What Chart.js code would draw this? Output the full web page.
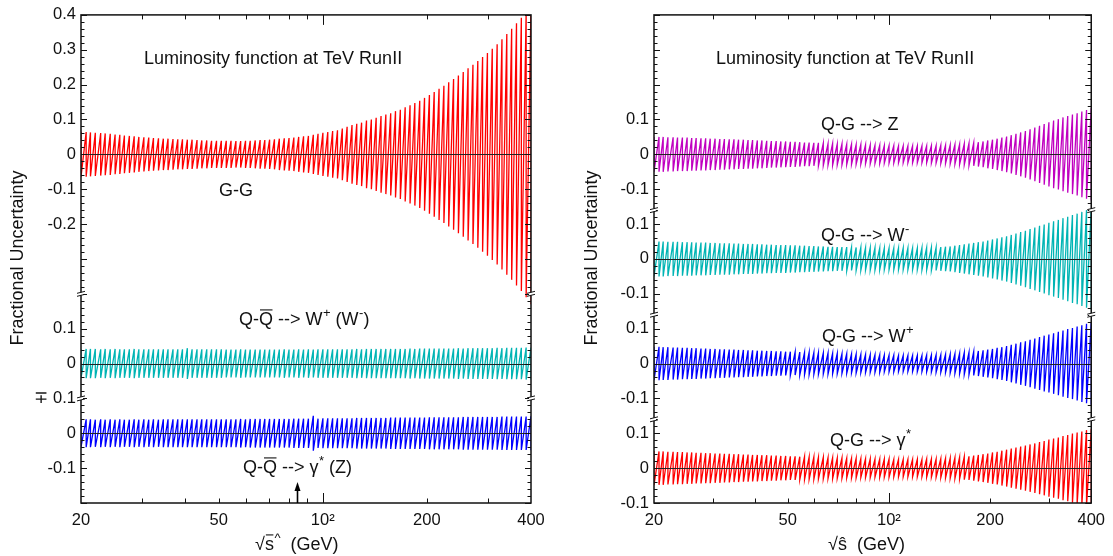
<!DOCTYPE html>
<html>
<head>
<meta charset="utf-8">
<script src="https://cdn.jsdelivr.net/npm/chart.js@4.4.1/dist/chart.umd.min.js"></script>
<style>
  body { margin: 0; background: #fff; }
  #left { position: absolute; left: 0; top: 0; }
  #right { position: absolute; left: 556px; top: 0; }
</style>
</head>
<body>
<canvas id="left" width="556" height="556"></canvas>
<canvas id="right" width="557" height="556"></canvas>

<script>
// sqrt(s-hat) grid in GeV, same for every curve
var mass = [20.0,20.7,21.3,22.0,22.8,23.5,24.3,25.1,25.9,26.7,
  27.6,28.5,29.4,30.4,31.4,32.4,33.5,34.6,35.7,36.9,
  38.1,39.3,40.6,41.9,43.3,44.7,46.2,47.7,49.3,50.9,
  52.6,54.3,56.1,57.9,59.8,61.7,63.8,65.9,68.0,70.2,
  72.5,74.9,77.4,79.9,82.5,85.2,88.0,90.9,93.9,96.9,
  100.1,103.4,106.8,110.3,113.9,117.6,121.5,125.4,129.5,133.8,
  138.2,142.7,147.4,152.2,157.2,162.3,167.6,173.1,178.8,184.6,
  190.7,196.9,203.4,210.0,216.9,224.0,231.3,238.9,246.7,254.8,
  263.1,271.8,280.7,289.8,299.3,309.1,319.3,329.7,340.5,351.7,
  363.2,375.1,387.3,400.0]

// fractional uncertainty (half width) at each mass point
var ggErr = [0.065,0.064,0.063,0.062,0.061,0.060,0.059,0.057,0.056,0.054,
  0.053,0.052,0.050,0.049,0.048,0.047,0.046,0.045,0.045,0.044,
  0.043,0.043,0.042,0.042,0.041,0.040,0.040,0.039,0.039,0.039,
  0.039,0.039,0.038,0.038,0.039,0.039,0.040,0.041,0.041,0.042,
  0.043,0.045,0.046,0.047,0.048,0.050,0.052,0.053,0.056,0.059,
  0.062,0.064,0.067,0.069,0.074,0.079,0.084,0.088,0.091,0.097,
  0.100,0.105,0.110,0.114,0.118,0.124,0.128,0.135,0.141,0.147,
  0.154,0.162,0.170,0.179,0.188,0.197,0.207,0.216,0.226,0.236,
  0.247,0.257,0.268,0.279,0.291,0.303,0.316,0.330,0.345,0.360,
  0.376,0.392,0.410,0.430]

var qqWErr = [0.041,0.042,0.042,0.042,0.041,0.042,0.041,0.042,0.041,0.041,
  0.041,0.042,0.041,0.041,0.041,0.041,0.041,0.041,0.041,0.041,
  0.041,0.041,0.044,0.041,0.041,0.041,0.041,0.041,0.041,0.041,
  0.040,0.040,0.040,0.041,0.040,0.040,0.040,0.040,0.040,0.040,
  0.040,0.040,0.041,0.040,0.040,0.041,0.040,0.041,0.040,0.041,
  0.041,0.041,0.041,0.041,0.041,0.041,0.041,0.042,0.041,0.042,
  0.042,0.042,0.042,0.042,0.042,0.042,0.042,0.042,0.043,0.042,
  0.043,0.043,0.043,0.043,0.043,0.043,0.043,0.043,0.044,0.043,
  0.044,0.044,0.044,0.044,0.044,0.044,0.045,0.044,0.045,0.045,
  0.045,0.045,0.046,0.046]

var qqGamErr = [0.039,0.040,0.040,0.039,0.040,0.039,0.040,0.039,0.040,0.039,
  0.039,0.040,0.039,0.040,0.039,0.040,0.039,0.040,0.040,0.040,
  0.040,0.040,0.040,0.040,0.040,0.040,0.040,0.040,0.040,0.040,
  0.040,0.040,0.040,0.041,0.040,0.041,0.041,0.041,0.041,0.041,
  0.041,0.041,0.041,0.041,0.042,0.042,0.042,0.042,0.050,0.042,
  0.043,0.043,0.043,0.043,0.043,0.043,0.043,0.044,0.044,0.044,
  0.044,0.044,0.044,0.044,0.045,0.045,0.045,0.045,0.045,0.045,
  0.045,0.045,0.046,0.046,0.046,0.046,0.046,0.046,0.046,0.047,
  0.047,0.047,0.047,0.047,0.047,0.047,0.047,0.048,0.048,0.048,
  0.048,0.048,0.048,0.049]

var qgZErr = [0.050,0.050,0.050,0.049,0.049,0.048,0.048,0.048,0.047,0.047,
  0.046,0.046,0.045,0.045,0.044,0.044,0.043,0.043,0.042,0.042,
  0.041,0.041,0.040,0.040,0.039,0.038,0.038,0.037,0.037,0.036,
  0.036,0.035,0.034,0.034,0.033,0.033,0.032,0.031,0.031,0.030,
  0.030,0.029,0.029,0.028,0.028,0.027,0.027,0.026,0.026,0.025,
  0.025,0.025,0.024,0.024,0.024,0.024,0.024,0.024,0.024,0.025,
  0.025,0.026,0.026,0.027,0.028,0.029,0.030,0.032,0.033,0.035,
  0.037,0.040,0.042,0.045,0.048,0.051,0.055,0.059,0.063,0.067,
  0.072,0.077,0.082,0.087,0.092,0.097,0.101,0.106,0.110,0.114,
  0.118,0.123,0.127,0.132]

var qgWmErr = [0.050,0.050,0.050,0.049,0.049,0.049,0.048,0.048,0.048,0.047,
  0.047,0.047,0.046,0.046,0.045,0.045,0.045,0.044,0.044,0.043,
  0.043,0.043,0.042,0.042,0.041,0.041,0.040,0.040,0.040,0.039,
  0.039,0.038,0.038,0.037,0.037,0.036,0.036,0.035,0.035,0.034,
  0.034,0.034,0.033,0.033,0.033,0.032,0.032,0.032,0.031,0.031,
  0.031,0.031,0.031,0.031,0.031,0.031,0.031,0.032,0.032,0.033,
  0.033,0.034,0.035,0.036,0.038,0.040,0.042,0.044,0.046,0.048,
  0.050,0.053,0.056,0.059,0.062,0.065,0.069,0.073,0.077,0.081,
  0.086,0.090,0.095,0.099,0.104,0.108,0.112,0.117,0.121,0.126,
  0.130,0.135,0.140,0.145]

var qgWpErr = [0.048,0.048,0.047,0.047,0.046,0.046,0.045,0.045,0.044,0.044,
  0.043,0.043,0.042,0.042,0.041,0.041,0.040,0.040,0.039,0.039,
  0.038,0.038,0.037,0.037,0.036,0.036,0.035,0.035,0.034,0.034,
  0.033,0.033,0.032,0.032,0.031,0.031,0.030,0.030,0.029,0.029,
  0.028,0.028,0.027,0.027,0.026,0.026,0.025,0.025,0.025,0.024,
  0.024,0.024,0.023,0.023,0.023,0.023,0.023,0.023,0.024,0.024,
  0.025,0.025,0.026,0.027,0.028,0.029,0.031,0.032,0.034,0.036,
  0.038,0.040,0.042,0.045,0.047,0.050,0.054,0.057,0.061,0.064,
  0.068,0.072,0.076,0.080,0.083,0.087,0.091,0.095,0.099,0.102,
  0.106,0.110,0.114,0.118]

var qgGamErr = [0.049,0.048,0.048,0.047,0.047,0.046,0.046,0.045,0.045,0.044,
  0.044,0.043,0.043,0.042,0.042,0.041,0.041,0.040,0.040,0.039,
  0.039,0.038,0.038,0.037,0.037,0.036,0.036,0.035,0.035,0.034,
  0.034,0.033,0.033,0.032,0.032,0.031,0.031,0.030,0.030,0.029,
  0.029,0.028,0.028,0.028,0.027,0.027,0.027,0.026,0.026,0.026,
  0.026,0.025,0.025,0.025,0.025,0.025,0.025,0.025,0.026,0.026,
  0.026,0.027,0.028,0.029,0.030,0.031,0.033,0.034,0.036,0.038,
  0.040,0.042,0.045,0.047,0.050,0.053,0.056,0.059,0.062,0.065,
  0.068,0.071,0.075,0.078,0.082,0.085,0.088,0.092,0.095,0.099,
  0.102,0.105,0.109,0.112]

// x axis ticks
var xTicks = [20, 50, 100, 200, 400]
var xTickText = ['20', '50', '10²', '200', '400']
var xMinor = [30, 40, 50, 60, 70, 80, 90, 200, 300]
var xDecade = [100]

// each panel stacks several blocks on one y axis; a block is shifted down by its offset
var leftOffsets = [0, -0.6, -0.8]
var leftBreaks = [-0.4, -0.7]
var leftYTicks = [0.4, 0.3, 0.2, 0.1, 0, -0.1, -0.2, -0.5, -0.6, -0.7, -0.8, -0.9]
var leftYText = ['0.4', '0.3', '0.2', '0.1', '0', '-0.1', '-0.2', '0.1', '0', '∓ 0.1', '0', '-0.1']

var rightOffsets = [0, -0.3, -0.6, -0.9]
var rightBreaks = [-0.16, -0.46, -0.76]
var rightYTicks = [0.1, 0, -0.1, -0.2, -0.3, -0.4, -0.5, -0.6, -0.7, -0.8, -0.9, -1.0]
var rightYText = ['0.1', '0', '-0.1', '0.1', '0', '-0.1', '0.1', '0', '-0.1', '0.1', '0', '-0.1']

var wMarker = 84   // arrow on the bottom axis, GeV

var FONT = '"Liberation Sans", Arial, Helvetica, sans-serif'
Chart.defaults.font.family = FONT

// up-down sawtooth: +err and -err at every mass point
function band(err, off) {
  var pts = []
  for (var i = 0; i < mass.length; i++) {
    pts.push({x: mass[i], y: off + err[i]})
    pts.push({x: mass[i], y: off - err[i]})
  }
  return pts
}

function curve(err, off, color) {
  return {
    data: band(err, off),
    showLine: true,
    borderColor: color,
    borderWidth: 1.3,
    pointRadius: 0,
    tension: 0
  }
}

// text with superscripts (1) and overbars (2)
function richText(ctx, x, y, parts, size) {
  ctx.textBaseline = 'middle'
  ctx.textAlign = 'left'
  ctx.fillStyle = '#111'
  ctx.strokeStyle = '#111'
  parts.forEach(function(p) {
    var txt = p[0], kind = p[1] || 0
    if (kind == 1) {
      ctx.font = Math.round(size * 0.7) + 'px ' + FONT
      ctx.fillText(txt, x + 0.5, y - size * 0.34)
      x += ctx.measureText(txt).width + 0.5
    } else {
      ctx.font = size + 'px ' + FONT
      ctx.fillText(txt, x, y)
      var w = ctx.measureText(txt).width
      if (kind == 2) {
        ctx.beginPath()
        ctx.lineWidth = 1.1
        ctx.moveTo(x + 1, y - size * 0.56)
        ctx.lineTo(x + w - 0.5, y - size * 0.56)
        ctx.stroke()
      }
      x += w
    }
  })
}

var panelPlugin = {
  id: 'panel',
  afterDatasetsDraw: function(chart, args, opts) {
    var ctx = chart.ctx, a = chart.chartArea
    var xs = chart.scales.x, ys = chart.scales.y
    ctx.save()

    // zero line of every block
    ctx.strokeStyle = '#222'
    ctx.lineWidth = 1.2
    opts.offsets.forEach(function(z) {
      var py = Math.round(ys.getPixelForValue(z)) + 0.5
      ctx.beginPath(); ctx.moveTo(a.left, py); ctx.lineTo(a.right, py); ctx.stroke()
    })

    // frame
    ctx.strokeStyle = '#111'
    ctx.lineWidth = 1.5
    ctx.strokeRect(a.left, a.top, a.right - a.left, a.bottom - a.top)

    // inward ticks on the y sides, every 0.02
    ctx.lineWidth = 1
    var n = Math.round((ys.max - ys.min) / 0.02)
    for (var k = 0; k <= n; k++) {
      var py = Math.round(ys.getPixelForValue(ys.max - k * 0.02)) + 0.5
      var len = k % 5 == 0 ? 6 : 3.5
      ctx.beginPath()
      ctx.moveTo(a.left, py); ctx.lineTo(a.left + len, py)
      ctx.moveTo(a.right, py); ctx.lineTo(a.right - len, py)
      ctx.stroke()
    }
    // inward ticks on the x sides
    function xtick(v, len) {
      var px = Math.round(xs.getPixelForValue(v)) + 0.5
      ctx.beginPath()
      ctx.moveTo(px, a.bottom); ctx.lineTo(px, a.bottom - len)
      ctx.moveTo(px, a.top); ctx.lineTo(px, a.top + len)
      ctx.stroke()
    }
    xMinor.forEach(function(v) { xtick(v, 4.5) })
    xDecade.forEach(function(v) { xtick(v, 10) })

    // axis breaks
    opts.breaks.forEach(function(b) {
      var py = ys.getPixelForValue(b);
      [a.left, a.right].forEach(function(ax) {
        ctx.fillStyle = '#fff'
        ctx.fillRect(ax - 2, py - 1.5, 4, 3)
        ctx.beginPath()
        ctx.lineWidth = 1
        ctx.moveTo(ax - 4, py - 0.5); ctx.lineTo(ax + 4, py - 2.5)
        ctx.moveTo(ax - 4, py + 2.5); ctx.lineTo(ax + 4, py + 0.5)
        ctx.stroke()
      })
    })

    // arrow at the marked mass
    if (opts.arrow) {
      var ax = Math.round(xs.getPixelForValue(opts.arrow)) + 0.5
      ctx.strokeStyle = '#000'
      ctx.fillStyle = '#000'
      ctx.lineWidth = 1.6
      ctx.beginPath(); ctx.moveTo(ax, a.bottom); ctx.lineTo(ax, a.bottom - 15); ctx.stroke()
      ctx.beginPath()
      ctx.moveTo(ax, a.bottom - 21); ctx.lineTo(ax - 3, a.bottom - 12); ctx.lineTo(ax + 3, a.bottom - 12)
      ctx.closePath(); ctx.fill()
    }

    // labels
    opts.texts.forEach(function(t) { richText(ctx, t.x, t.y, t.parts, 18) })
    richText(ctx, opts.xTitle.x, opts.xTitle.y, opts.xTitle.parts, 18)

    // y title
    ctx.translate(opts.yTitle.x, opts.yTitle.y)
    ctx.rotate(-Math.PI / 2)
    ctx.font = '18px ' + FONT
    ctx.textAlign = 'center'
    ctx.textBaseline = 'middle'
    ctx.fillStyle = '#111'
    ctx.fillText('Fractional Uncertainty', 0, 0)
    ctx.restore()
  }
}

function makePanel(id, datasets, yTicks, yText, yWidth, padRight, panelOpts) {
  return new Chart(document.getElementById(id), {
    type: 'scatter',
    data: { datasets: datasets },
    options: {
      responsive: false,
      animation: false,
      devicePixelRatio: 1,
      layout: { padding: { left: 0, right: padRight, top: 14, bottom: 0 } },
      plugins: { legend: { display: false }, tooltip: { enabled: false }, panel: panelOpts },
      scales: {
        x: {
          type: 'logarithmic', min: 20, max: 400,
          grid: { display: false, drawTicks: false },
          border: { display: false },
          afterBuildTicks: function(s) { s.ticks = xTicks.map(function(v) { return {value: v} }) },
          afterFit: function(s) { s.height = 53 },
          ticks: {
            autoSkip: false, maxRotation: 0, padding: 8, color: '#111',
            font: { size: 16.5 },
            callback: function(v, i) { return xTickText[i] }
          }
        },
        y: {
          type: 'linear', min: -1.0, max: 0.4,
          grid: { display: false, drawTicks: false },
          border: { display: false },
          afterBuildTicks: function(s) { s.ticks = yTicks.map(function(v) { return {value: v} }) },
          afterFit: function(s) { s.width = yWidth },
          ticks: {
            autoSkip: false, padding: 5, color: '#111',
            font: { size: 16.5 },
            callback: function(v, i) { return yText[i] }
          }
        }
      }
    },
    plugins: [panelPlugin]
  })
}

makePanel('left', [
  curve(ggErr, leftOffsets[0], '#ff0000'),
  curve(qqWErr, leftOffsets[1], '#00b4b4'),
  curve(qqGamErr, leftOffsets[2], '#0000ff')
], leftYTicks, leftYText, 81, 25, {
  offsets: leftOffsets,
  breaks: leftBreaks,
  arrow: wMarker,
  texts: [
    { x: 144, y: 59, parts: [['Luminosity function at TeV RunII']] },
    { x: 219, y: 191, parts: [['G-G']] },
    { x: 239, y: 320, parts: [['Q-'], ['Q', 2], [' --> W'], ['+', 1], [' (W'], ['-', 1], [')']] },
    { x: 243, y: 468, parts: [['Q-'], ['Q', 2], [' --> γ'], ['*', 1], [' (Z)']] }
  ],
  xTitle: { x: 255, y: 545, parts: [['√'], ['s', 2], ['^', 1], ['  (GeV)']] },
  yTitle: { x: 18, y: 258 }
})

makePanel('right', [
  curve(qgZErr, rightOffsets[0], '#c000c0'),
  curve(qgWmErr, rightOffsets[1], '#00b4b4'),
  curve(qgWpErr, rightOffsets[2], '#0000ff'),
  curve(qgGamErr, rightOffsets[3], '#ff0000')
], rightYTicks, rightYText, 98, 19, {
  offsets: rightOffsets,
  breaks: rightBreaks,
  arrow: null,
  texts: [
    { x: 160, y: 59, parts: [['Luminosity function at TeV RunII']] },
    { x: 265, y: 125, parts: [['Q-G --> Z']] },
    { x: 265, y: 236, parts: [['Q-G --> W'], ['-', 1]] },
    { x: 266, y: 337, parts: [['Q-G --> W'], ['+', 1]] },
    { x: 274, y: 441, parts: [['Q-G --> γ'], ['*', 1]] }
  ],
  xTitle: { x: 272, y: 545, parts: [['√'], ['ŝ'], ['  (GeV)']] },
  yTitle: { x: 36, y: 258 }
})
</script>
</body>
</html>
